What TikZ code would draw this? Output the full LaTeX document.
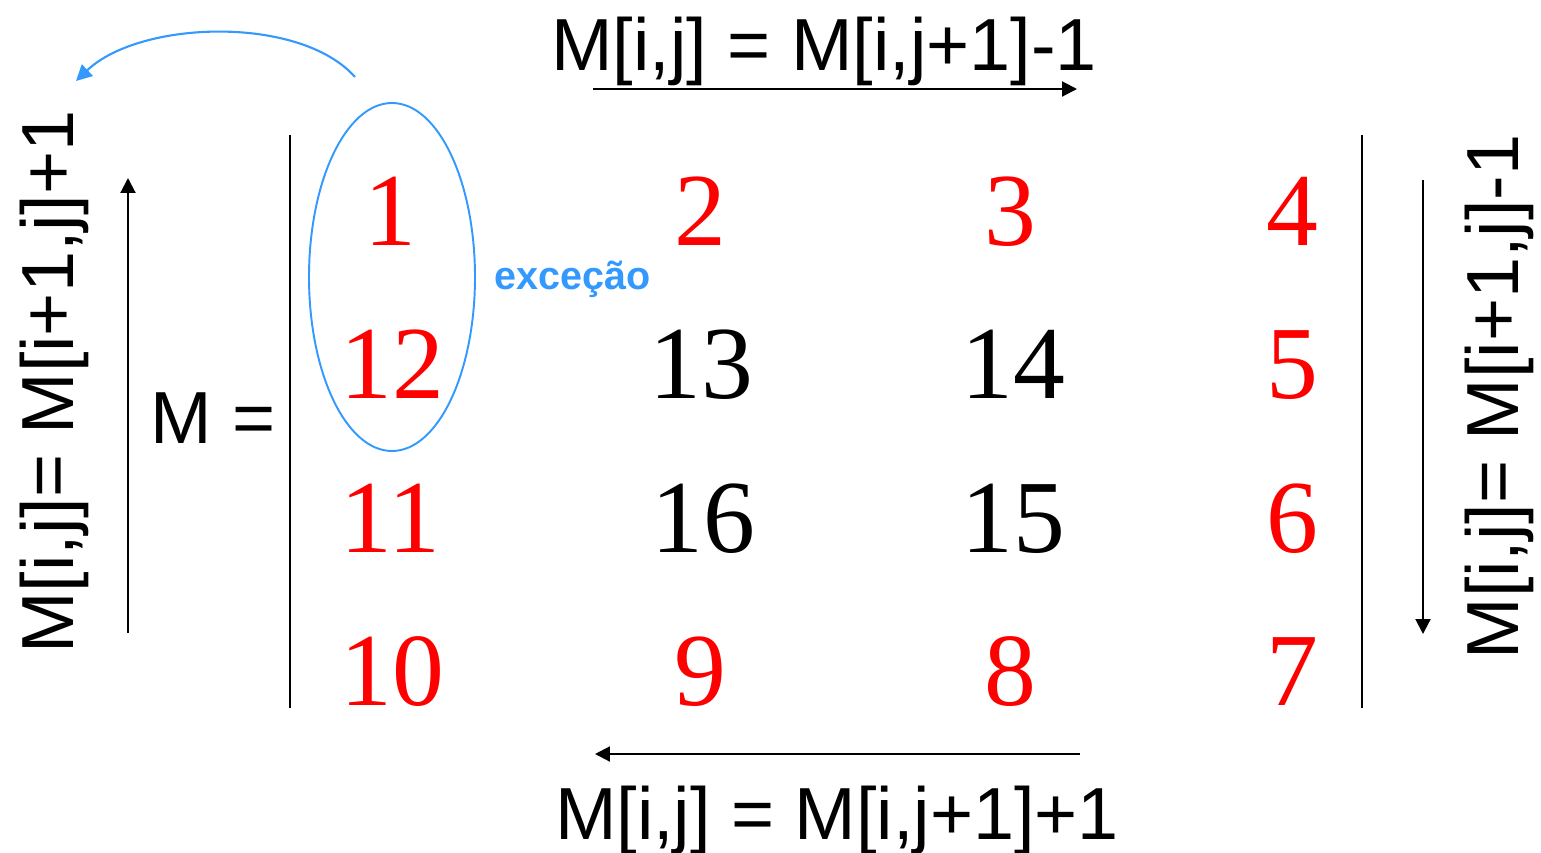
\documentclass[tikz,border=0pt]{standalone}
\usepackage{fontspec}
\setmainfont{Liberation Sans}
\newfontfamily\numfont{Liberation Serif}
\usetikzlibrary{arrows.meta}
\definecolor{exblue}{RGB}{51,153,255}
\definecolor{numred}{RGB}{255,0,0}
\begin{document}
\begin{tikzpicture}[x=0.02cm,y=-0.02cm,
  formula/.style={font=\fontsize{42}{48}\selectfont, inner sep=0pt, anchor=base},
  sideformula/.style={font=\fontsize{42}{48}\selectfont, inner sep=0pt, anchor=base, rotate=90},
  num/.style={font=\numfont\fontsize{59}{66}\selectfont, inner sep=0pt, anchor=base},
  rednum/.style={num, text=numred},
  blacknum/.style={num, text=black},
  arr/.style={line width=1.2pt, -{Triangle[length=8.5pt,width=8.5pt]}},
  bar/.style={line width=1.2pt},
]
\useasboundingbox (0,0) rectangle (1541,852);

% formulas
\node[formula] (top) at (824,70) {M[i,j] = M[i,j+1]-1};
\node[formula] (bottom) at (837,839) {M[i,j] = M[i,j+1]+1};
\node[sideformula] (left) at (73,382) {M[i,j]= M[i+1,j]+1};
\node[sideformula] (right) at (1518,397) {M[i,j]= M[i+1,j]-1};
\node[formula] (meq) at (213,443) {M =};

% arrows
\coordinate (ta1) at (593,89);  \coordinate (ta2) at (1077,89);
\coordinate (ba1) at (1080,754); \coordinate (ba2) at (595,754);
\coordinate (la1) at (128,633); \coordinate (la2) at (128,178);
\coordinate (ra1) at (1423,180); \coordinate (ra2) at (1423,634);
\draw[arr] (ta1) -- (ta2);
\draw[arr] (ba1) -- (ba2);
\draw[arr] (la1) -- (la2);
\draw[arr] (ra1) -- (ra2);

% matrix bars
\coordinate (lb1) at (290,135); \coordinate (lb2) at (290,708);
\coordinate (rb1) at (1362,135); \coordinate (rb2) at (1362,708);
\draw[bar] (lb1) -- (lb2);
\draw[bar] (rb1) -- (rb2);

% numbers
\node[rednum] (n1) at (390,245) {1};
\node[rednum] (n2) at (700,245) {2};
\node[rednum] (n3) at (1010,245) {3};
\node[rednum] (n4) at (1292,245) {4};
\node[rednum] (n12) at (392,398) {12};
\node[blacknum] (n13) at (701,398) {13};
\node[blacknum] (n14) at (1013,398) {14};
\node[rednum] (n5) at (1292,398) {5};
\node[rednum] (n11) at (390,552) {11};
\node[blacknum] (n16) at (703,552) {16};
\node[blacknum] (n15) at (1013,552) {15};
\node[rednum] (n6) at (1292,552) {6};
\node[rednum] (n10) at (392,705) {10};
\node[rednum] (n9) at (700,705) {9};
\node[rednum] (n8) at (1010,705) {8};
\node[rednum] (n7) at (1292,705) {7};

% exception ellipse and label
\draw[exblue, line width=1.1pt] (392,277) ellipse [x radius=83, y radius=174];
\node[font=\bfseries\fontsize{22.5}{26}\selectfont, text=exblue, inner sep=0pt, anchor=base] (exc) at (573,289) {exceção};

\coordinate (ca1) at (355,77);
\coordinate (ca2) at (76,81);
\draw[exblue, line width=1.2pt, -{Triangle[length=9pt,width=9pt]}] (ca1) .. controls (300,15) and (140,20) .. (ca2);
\end{tikzpicture}
\end{document}
